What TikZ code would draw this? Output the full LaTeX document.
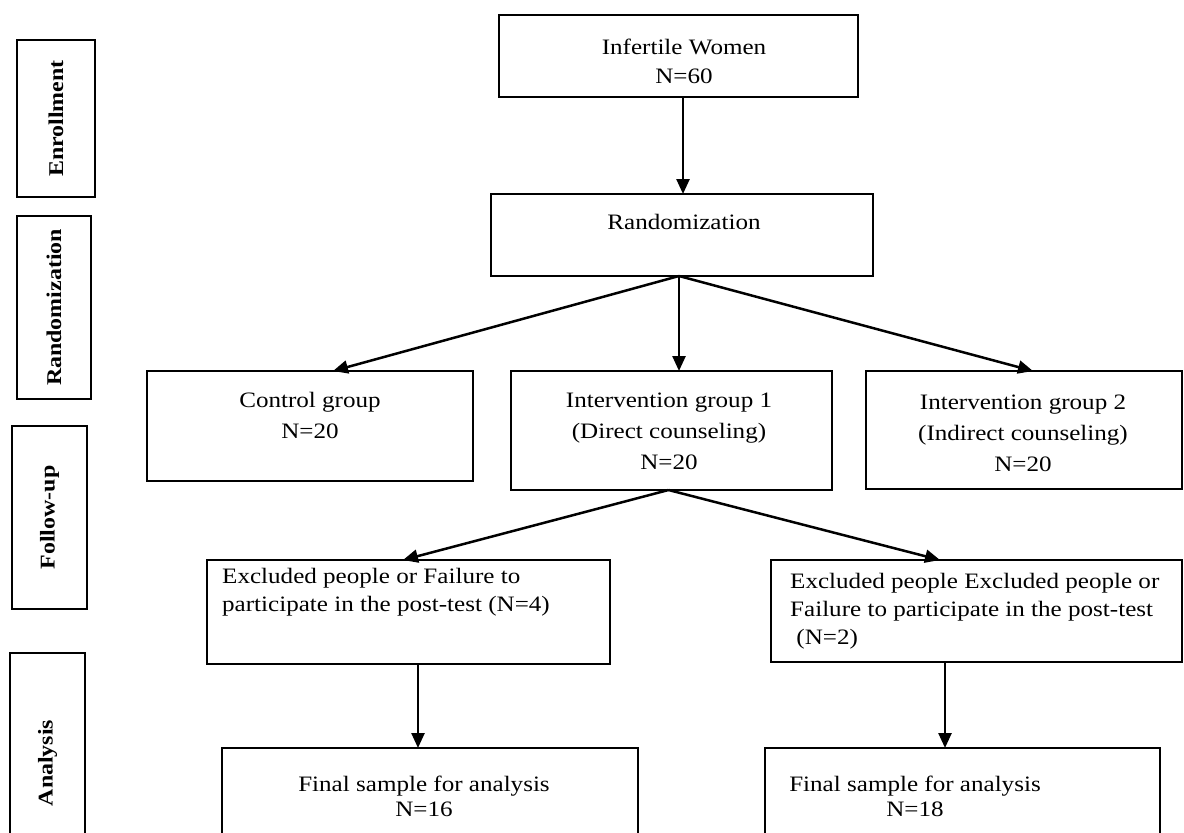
\documentclass[tikz,border=0pt]{standalone}
\usepackage{fontspec}
\setmainfont[FakeStretch=1.14]{Liberation Serif}
\usetikzlibrary{arrows.meta}
\begin{document}
\begin{tikzpicture}[x=1pt,y=-1pt,
  box/.style={draw, line width=2.8pt, inner sep=0pt, outer sep=0pt, anchor=north west},
  sidebox/.style={draw, line width=1.6pt, inner sep=0pt, outer sep=0pt, anchor=north west},
  txt/.style={inner sep=0pt, font=\fontsize{22}{29}\selectfont, align=center},
  ltxt/.style={inner sep=0pt, font=\fontsize{22}{28}\selectfont, align=left, anchor=west},
  side/.style={inner sep=0pt, rotate=90, font=\fontsize{21}{24}\selectfont\bfseries},
  arr/.style={line width=2.5pt, -{Triangle[length=15pt,width=13pt]}},
]
\useasboundingbox (0,0) rectangle (1184,833);
\begin{scope}
\clip (0,0) rectangle (1184,833);
% side boxes
\node[sidebox, minimum width=78pt, minimum height=157pt] (s1) at (17,40) {};
\node[side] (s1t) at (s1.center) {Enrollment};
\node[sidebox, minimum width=74pt, minimum height=183pt] (s2) at (17,216) {};
\node[side] (s2t) at (s2.center) {Randomization};
\node[sidebox, minimum width=75pt, minimum height=183pt] (s3) at (12,426) {};
\node[side] (s3t) at (s3.center) {Follow-up};
\node[sidebox, minimum width=75pt, minimum height=200pt] (s4) at (10,653) {};
\node[side] (s4t) at ([yshift=-10pt]s4.center) {Analysis};

% main boxes
\node[box, minimum width=359pt, minimum height=82pt] (inf) at (499,15) {};
\node[txt] (inft) at (684,61) {Infertile Women\\N=60};
\node[box, minimum width=382pt, minimum height=82pt] (rnd) at (491,194) {};
\node[txt] (rndt) at (684,222) {Randomization};
\node[box, minimum width=326pt, minimum height=110pt] (ctl) at (147,371) {};
\node[txt, font=\fontsize{22}{31}\selectfont] (ctlt) at (310,415) {Control group\\N=20};
\node[box, minimum width=321pt, minimum height=119pt] (iv1) at (511,371) {};
\node[txt, font=\fontsize{22}{31}\selectfont] (iv1t) at (669,431) {Intervention group 1\\(Direct counseling)\\N=20};
\node[box, minimum width=316pt, minimum height=118pt] (iv2) at (866,371) {};
\node[txt, font=\fontsize{22}{31}\selectfont] (iv2t) at (1023,433) {Intervention group 2\\(Indirect counseling)\\N=20};
\node[box, minimum width=403pt, minimum height=104pt] (ex1) at (207,560) {};
\node[ltxt] (ex1t) at (222,592) {Excluded people or Failure to\\participate in the post-test (N=4)};
\node[box, minimum width=411pt, minimum height=102pt] (ex2) at (771,560) {};
\node[ltxt] (ex2t) at (790,611) {Excluded people Excluded people or\\Failure to participate in the post-test\\\ (N=2)};
\node[box, minimum width=416pt, minimum height=110pt] (fn1) at (222,748) {};
\node[txt, font=\fontsize{22}{25}\selectfont] (fn1t) at (424,796) {Final sample for analysis\\N=16};
\node[box, minimum width=395pt, minimum height=110pt] (fn2) at (765,748) {};
\node[txt, font=\fontsize{22}{25}\selectfont] (fn2t) at (915,796) {Final sample for analysis\\N=18};
\end{scope}

% connectors
\coordinate (ia) at ([xshift=4.5pt]inf.south);
\coordinate (rb) at ([xshift=-3pt]rnd.south);
\coordinate (ib) at ([xshift=-3pt]iv1.south);
\coordinate (ctltop) at (333,371);
\coordinate (iv2top) at (1033,371);
\coordinate (ex1top) at (403,560);
\coordinate (ex2top) at (940,560);
\coordinate (ex1b) at (418,664);
\coordinate (ex2b) at (945,662);
\draw[arr] (ia) -- (ia |- rnd.north);
\draw[arr] (rb) -- (ctltop);
\draw[arr] (rb) -- (rb |- iv1.north);
\draw[arr] (rb) -- (iv2top);
\draw[arr] (ib) -- (ex1top);
\draw[arr] (ib) -- (ex2top);
\draw[arr] (ex1b) -- (ex1b |- fn1.north);
\draw[arr] (ex2b) -- (ex2b |- fn2.north);
\end{tikzpicture}
\end{document}
